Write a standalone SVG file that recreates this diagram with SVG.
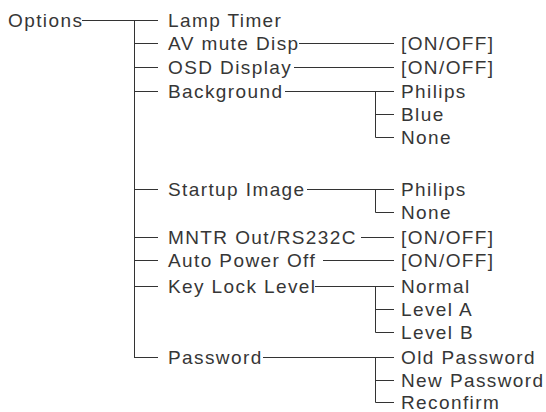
<svg xmlns="http://www.w3.org/2000/svg" width="546" height="412" viewBox="0 0 546 412">
<style>
text{font-family:"Liberation Sans",Arial,sans-serif;font-size:19px;letter-spacing:1.4px;fill:#363636}
.c line,.c path{stroke:#333;stroke-width:1;fill:none}
</style>
<rect width="546" height="412" fill="#fff"/>
<g class="c" id="connectors">
<line x1="82" y1="20.5" x2="158" y2="20.5"/>
<line x1="134.5" y1="20.5" x2="134.5" y2="357.5"/>
<line x1="134.5" y1="43.5" x2="158" y2="43.5"/>
<line x1="134.5" y1="67.5" x2="158" y2="67.5"/>
<line x1="134.5" y1="91.5" x2="158" y2="91.5"/>
<line x1="134.5" y1="189.5" x2="158" y2="189.5"/>
<line x1="134.5" y1="237.5" x2="158" y2="237.5"/>
<line x1="134.5" y1="260.5" x2="158" y2="260.5"/>
<line x1="134.5" y1="286.5" x2="158" y2="286.5"/>
<line x1="134" y1="357.5" x2="158" y2="357.5"/>
<line x1="299" y1="43.5" x2="394" y2="43.5"/>
<line x1="294" y1="67.5" x2="394" y2="67.5"/>
<line x1="285" y1="91.5" x2="394" y2="91.5"/>
<path d="M375.5 91.5V137.5H394M375.5 114.5H394"/>
<line x1="307" y1="189.5" x2="394" y2="189.5"/>
<path d="M375.5 189.5V212.5H394"/>
<line x1="361" y1="237.5" x2="394" y2="237.5"/>
<line x1="323" y1="260.5" x2="394" y2="260.5"/>
<line x1="315" y1="286.5" x2="394" y2="286.5"/>
<path d="M375.5 286.5V332.5H394M375.5 309.5H394"/>
<line x1="263" y1="357.5" x2="394" y2="357.5"/>
<path d="M375.5 357.5V402.5H394M375.5 380.5H394"/>
</g>
<g id="options"><text x="8" y="27">Options</text></g>
<g id="lamp-timer"><text x="168" y="27">Lamp Timer</text></g>
<g id="av-mute"><text x="168" y="50">AV mute Disp</text></g>
<g id="osd-display"><text x="168" y="74">OSD Display</text></g>
<g id="background"><text x="168" y="98">Background</text></g>
<g id="startup-image"><text x="168" y="196">Startup Image</text></g>
<g id="mntr-out"><text x="168" y="244">MNTR Out/RS232C</text></g>
<g id="auto-power-off"><text x="168" y="267">Auto Power Off</text></g>
<g id="key-lock-level"><text x="168" y="293">Key Lock Level</text></g>
<g id="password"><text x="168" y="364">Password</text></g>
<g id="av-onoff"><text x="401" y="50">[ON/OFF]</text></g>
<g id="osd-onoff"><text x="401" y="74">[ON/OFF]</text></g>
<g id="bg-philips"><text x="401" y="98">Philips</text></g>
<g id="bg-blue"><text x="401" y="121">Blue</text></g>
<g id="bg-none"><text x="401" y="144">None</text></g>
<g id="su-philips"><text x="401" y="196">Philips</text></g>
<g id="su-none"><text x="401" y="219">None</text></g>
<g id="mntr-onoff"><text x="401" y="244">[ON/OFF]</text></g>
<g id="apo-onoff"><text x="401" y="267">[ON/OFF]</text></g>
<g id="kl-normal"><text x="401" y="293">Normal</text></g>
<g id="kl-level-a"><text x="401" y="316">Level A</text></g>
<g id="kl-level-b"><text x="401" y="339">Level B</text></g>
<g id="pw-old"><text x="401" y="364">Old Password</text></g>
<g id="pw-new"><text x="401" y="387">New Password</text></g>
<g id="pw-reconfirm"><text x="401" y="409">Reconfirm</text></g>
</svg>
